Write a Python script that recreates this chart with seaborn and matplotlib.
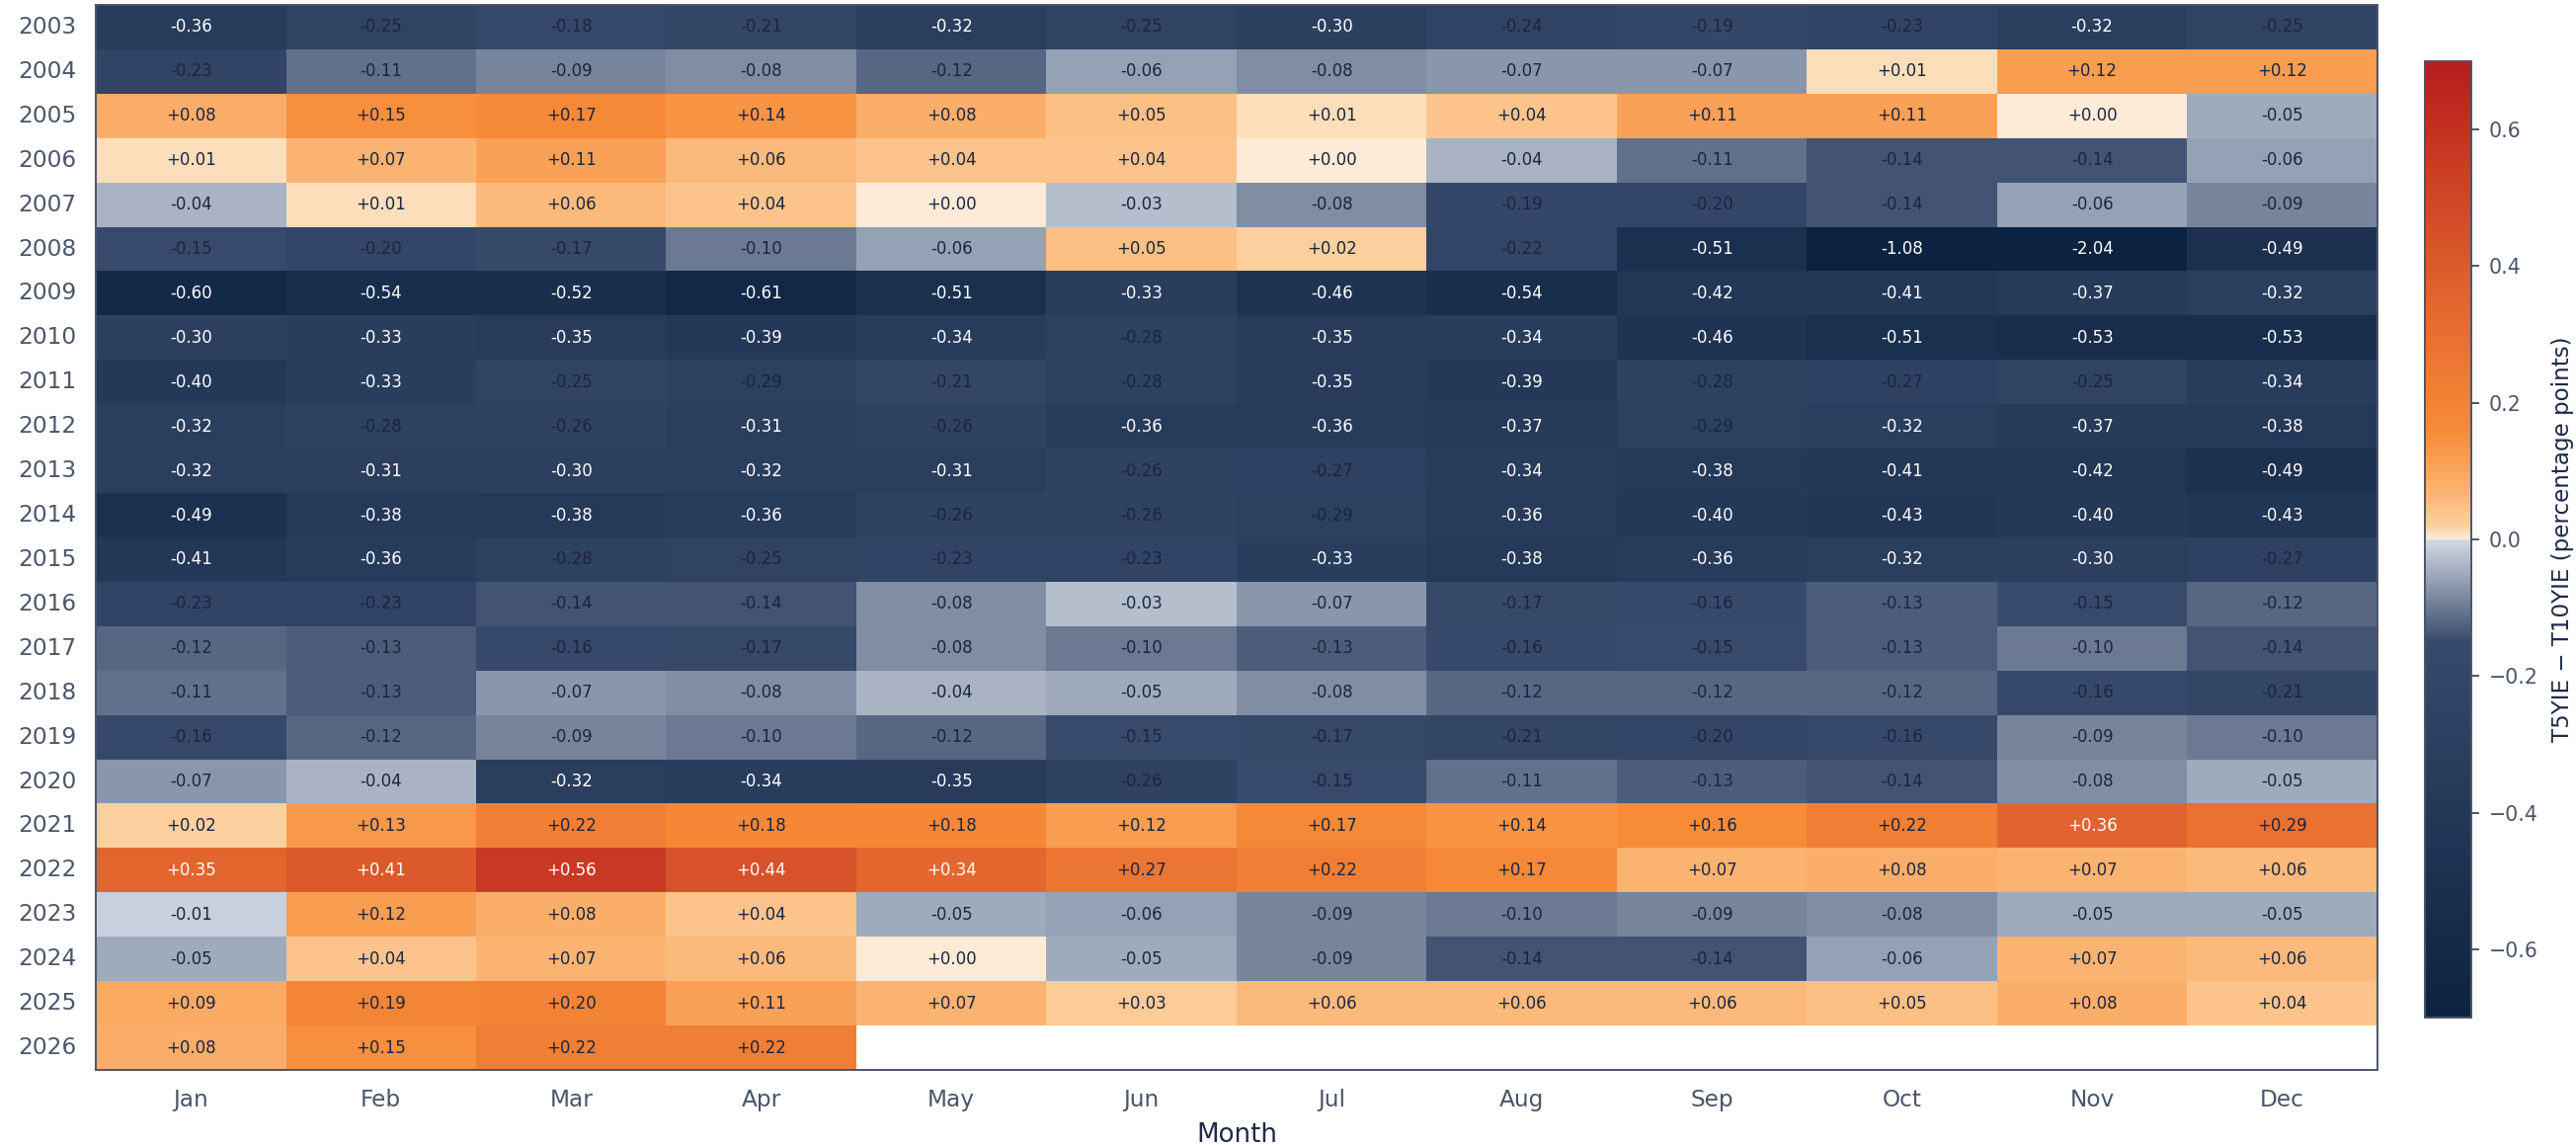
import numpy as np
import pandas as pd
import matplotlib
matplotlib.use("Agg")
import matplotlib.pyplot as plt
import seaborn as sns
from matplotlib.colors import LinearSegmentedColormap

# Monthly average T5YIE - T10YIE spread (percentage points)
months = ["Jan", "Feb", "Mar", "Apr", "May", "Jun", "Jul", "Aug", "Sep", "Oct", "Nov", "Dec"]
years = list(range(2003, 2027))
nan = np.nan
spread = [
    [-0.36, -0.25, -0.18, -0.21, -0.32, -0.25, -0.30, -0.24, -0.19, -0.23, -0.32, -0.25],  # 2003
    [-0.23, -0.11, -0.09, -0.08, -0.12, -0.06, -0.08, -0.07, -0.07, 0.01, 0.12, 0.12],     # 2004
    [0.08, 0.15, 0.17, 0.14, 0.08, 0.05, 0.01, 0.04, 0.11, 0.11, 0.00, -0.05],             # 2005
    [0.01, 0.07, 0.11, 0.06, 0.04, 0.04, 0.00, -0.04, -0.11, -0.14, -0.14, -0.06],         # 2006
    [-0.04, 0.01, 0.06, 0.04, 0.00, -0.03, -0.08, -0.19, -0.20, -0.14, -0.06, -0.09],      # 2007
    [-0.15, -0.20, -0.17, -0.10, -0.06, 0.05, 0.02, -0.22, -0.51, -1.08, -2.04, -0.49],    # 2008
    [-0.60, -0.54, -0.52, -0.61, -0.51, -0.33, -0.46, -0.54, -0.42, -0.41, -0.37, -0.32],  # 2009
    [-0.30, -0.33, -0.35, -0.39, -0.34, -0.28, -0.35, -0.34, -0.46, -0.51, -0.53, -0.53],  # 2010
    [-0.40, -0.33, -0.25, -0.29, -0.21, -0.28, -0.35, -0.39, -0.28, -0.27, -0.25, -0.34],  # 2011
    [-0.32, -0.28, -0.26, -0.31, -0.26, -0.36, -0.36, -0.37, -0.29, -0.32, -0.37, -0.38],  # 2012
    [-0.32, -0.31, -0.30, -0.32, -0.31, -0.26, -0.27, -0.34, -0.38, -0.41, -0.42, -0.49],  # 2013
    [-0.49, -0.38, -0.38, -0.36, -0.26, -0.26, -0.29, -0.36, -0.40, -0.43, -0.40, -0.43],  # 2014
    [-0.41, -0.36, -0.28, -0.25, -0.23, -0.23, -0.33, -0.38, -0.36, -0.32, -0.30, -0.27],  # 2015
    [-0.23, -0.23, -0.14, -0.14, -0.08, -0.03, -0.07, -0.17, -0.16, -0.13, -0.15, -0.12],  # 2016
    [-0.12, -0.13, -0.16, -0.17, -0.08, -0.10, -0.13, -0.16, -0.15, -0.13, -0.10, -0.14],  # 2017
    [-0.11, -0.13, -0.07, -0.08, -0.04, -0.05, -0.08, -0.12, -0.12, -0.12, -0.16, -0.21],  # 2018
    [-0.16, -0.12, -0.09, -0.10, -0.12, -0.15, -0.17, -0.21, -0.20, -0.16, -0.09, -0.10],  # 2019
    [-0.07, -0.04, -0.32, -0.34, -0.35, -0.26, -0.15, -0.11, -0.13, -0.14, -0.08, -0.05],  # 2020
    [0.02, 0.13, 0.22, 0.18, 0.18, 0.12, 0.17, 0.14, 0.16, 0.22, 0.36, 0.29],              # 2021
    [0.35, 0.41, 0.56, 0.44, 0.34, 0.27, 0.22, 0.17, 0.07, 0.08, 0.07, 0.06],              # 2022
    [-0.01, 0.12, 0.08, 0.04, -0.05, -0.06, -0.09, -0.10, -0.09, -0.08, -0.05, -0.05],     # 2023
    [-0.05, 0.04, 0.07, 0.06, 0.00, -0.05, -0.09, -0.14, -0.14, -0.06, 0.07, 0.06],        # 2024
    [0.09, 0.19, 0.20, 0.11, 0.07, 0.03, 0.06, 0.06, 0.06, 0.05, 0.08, 0.04],              # 2025
    [0.08, 0.15, 0.22, 0.22, nan, nan, nan, nan, nan, nan, nan, nan],                      # 2026
]
cbar_ticks = [-0.6, -0.4, -0.2, 0.0, 0.2, 0.4, 0.6]

VMIN, VMAX = -0.7, 0.7
TEXT = "#4a5568"
INK = "#1e2a45"

# diverging map: navy below zero, peach -> orange -> red above
nodes = [(-0.70, "#0b2240"), (-0.15, "#384a6b"), (-0.001, "#d1d9e3"),
         (0.0, "#fdecd9"), (0.02, "#fcd09e"), (0.08, "#fbae6a"),
         (0.16, "#f78b38"), (0.35, "#e2652e"), (0.70, "#b71c1c")]
cmap = LinearSegmentedColormap.from_list(
    "spread", [((v - VMIN) / (VMAX - VMIN), c) for v, c in nodes], N=1024)

df = pd.DataFrame(spread, index=years, columns=months)
labels = df.map(lambda v: "" if pd.isna(v) else f"{v:+.2f}")

sns.set_style("white")
plt.rcParams["font.family"] = ["DejaVu Sans"]

fig = plt.figure(figsize=(13.04, 5.795), dpi=200)
ax = fig.add_axes([0.0372, 0.0656, 0.8857, 0.9301])
cax = fig.add_axes([0.9413, 0.1113, 0.0180, 0.8352])

sns.heatmap(df, ax=ax, cbar_ax=cax, cmap=cmap, vmin=VMIN, vmax=VMAX,
            annot=labels, fmt="", annot_kws={"fontsize": 6.0},
            cbar_kws={"ticks": cbar_ticks})

# white text on the strongest cells, dark text elsewhere
for t in ax.texts:
    val = float(t.get_text())
    t.set_color("white" if abs(val) >= 0.30 else "#1a2540")

for s in ax.spines.values():
    s.set_visible(True)
    s.set_color(TEXT)
    s.set_linewidth(0.7)

ax.tick_params(axis="both", colors=TEXT, labelsize=8.4, length=3.4, width=0.7)
ax.set_yticklabels(years, rotation=0)
ax.set_xticklabels(months, rotation=0)
ax.set_xlabel("Month", fontsize=9.4, color=INK)
ax.set_ylabel("Year", fontsize=9.4, color=INK)
ax.yaxis.set_label_coords(-0.0407, 0.5)

cbar = ax.collections[0].colorbar
cbar.outline.set_edgecolor(TEXT)
cbar.outline.set_linewidth(0.7)
cax.tick_params(colors=TEXT, labelsize=7.4, length=2.9, width=0.7)
cbar.set_label("T5YIE \u2212 T10YIE (percentage points)", fontsize=8.3, color=INK, labelpad=5)

fig.savefig("out.png", dpi=200)
